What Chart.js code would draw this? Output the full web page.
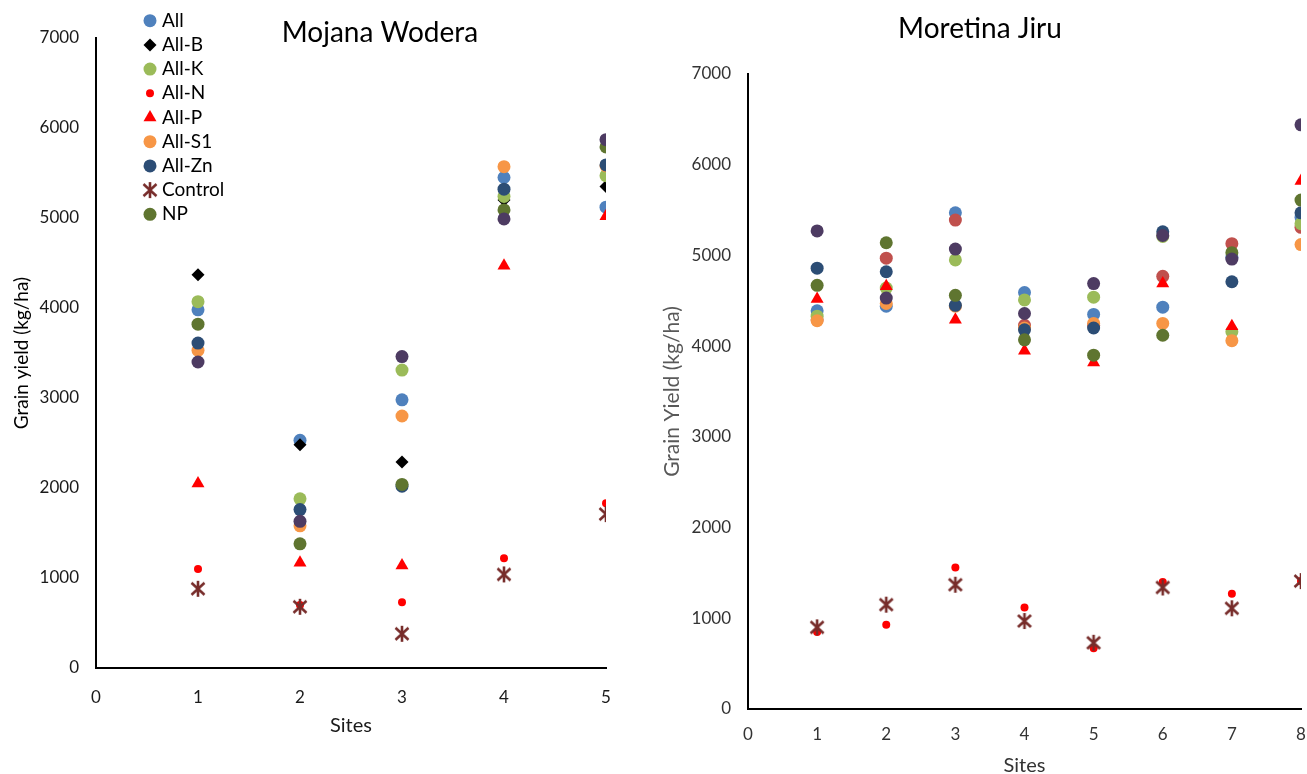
<!DOCTYPE html>
<html>
<head>
<meta charset="utf-8">
<title>Grain yield by site</title>
<script src="https://cdn.jsdelivr.net/npm/chart.js@4.4.0/dist/chart.umd.min.js"></script>
<style>
  html, body { margin: 0; padding: 0; background: #ffffff; overflow: hidden; width: 1307px; height: 774px; }
  #wrapL { position: absolute; left: 0; top: 0; width: 660px; height: 774px; }
  #wrapR { position: absolute; left: 640px; top: 0; width: 720px; height: 774px; }
</style>
</head>
<body>
<div id="wrapL"><canvas id="mojana"></canvas></div>
<div id="wrapR"><canvas id="moretina"></canvas></div>
<script>
// ---- Mojana Wodera (sites 1-5), grain yield kg/ha ----
const mwSites = [1, 2, 3, 4, 5];
const mwAll     = [3980, 2530, 2980, 5450, 5120];
const mwAllB    = [4370, 2480, 2290, 5200, 5350];
const mwAllK    = [4070, 1880, 3310, 5240, 5470];
const mwAllN    = [1100, 700, 730, 1220, 1830];
const mwAllP    = [2050, 1170, 1140, 4470, 5020];
const mwAllS1   = [3530, 1580, 2800, 5570, 5580];
const mwAllZn   = [3610, 1760, 2020, 5320, 5590];
const mwControl = [880, 680, 380, 1040, 1710];
const mwNP      = [3820, 1380, 2040, 5090, 5790];
const mwOther   = [3400, 1630, 3460, 4990, 5870];

// ---- Moretina Jiru (sites 1-8), grain yield kg/ha ----
const mjSites = [1, 2, 3, 4, 5, 6, 7, 8];
const mjAll     = [4390, 4440, 5470, 4590, 4350, 4430, 4980, 5420];
const mjAllB    = [4290, 4970, 5390, 4230, 4230, 4770, 5130, 5310];
const mjAllK    = [4330, 4640, 4950, 4510, 4540, 5210, 4160, 5350];
const mjAllN    = [850, 930, 1560, 1120, 670, 1400, 1270, 1410];
const mjAllP    = [4520, 4660, 4290, 3950, 3820, 4690, 4220, 5820];
const mjAllS1   = [4280, 4470, 4440, 4200, 4250, 4250, 4060, 5120];
const mjAllZn   = [4860, 4820, 4450, 4180, 4200, 5260, 4710, 5470];
const mjControl = [900, 1150, 1370, 970, 730, 1340, 1110, 1410];
const mjNP      = [4670, 5140, 4560, 4070, 3900, 4120, 5030, 5610];
const mjOther   = [5270, 4530, 5070, 4360, 4690, 5220, 4960, 6440];

const yTicks = [0, 1000, 2000, 3000, 4000, 5000, 6000, 7000];
const otherLabel = 'Series 10';

const FONT = "Lato, 'Open Sans', 'Liberation Sans', sans-serif";

// asterisk marker (X with a vertical bar)
function makeAsterisk(color) {
  const c = document.createElement('canvas');
  c.width = 18; c.height = 18;
  const g = c.getContext('2d');
  g.strokeStyle = color;
  g.lineWidth = 2.6;
  g.beginPath();
  g.moveTo(9, 1); g.lineTo(9, 17);
  g.moveTo(2.5, 3); g.lineTo(15.5, 15);
  g.moveTo(15.5, 3); g.lineTo(2.5, 15);
  g.stroke();
  return c;
}
const asterisk = makeAsterisk('#772C2A');

function pts(sites, vals) {
  return sites.map((s, i) => ({ x: s, y: vals[i] }));
}

function series(label, sites, vals, style) {
  return Object.assign({
    label: label,
    data: pts(sites, vals),
    borderWidth: 0,
    pointBorderWidth: 0,
    pointHoverRadius: 0
  }, style);
}

const circle = (color) => ({ pointStyle: 'circle', pointRadius: 6.5, backgroundColor: color, borderColor: color, pointBackgroundColor: color });

function buildSets(sites, v, bStyle) {
  const sets = [
    series('All', sites, v.all, circle('#4F81BD')),
    series('All-B', sites, v.b, bStyle),
    series('All-K', sites, v.k, circle('#9BBB59')),
    series('All-N', sites, v.n, { pointStyle: 'circle', pointRadius: 4, backgroundColor: '#FF0000', borderColor: '#FF0000', pointBackgroundColor: '#FF0000' }),
    series('All-P', sites, v.p, { pointStyle: 'triangle', pointRadius: 7.5, backgroundColor: '#FF0000', borderColor: '#FF0000', pointBackgroundColor: '#FF0000' }),
    series('All-S1', sites, v.s1, circle('#F79646')),
    series('All-Zn', sites, v.zn, circle('#2C4D75')),
    series('Control', sites, v.ctrl, { pointStyle: asterisk, pointRadius: 9, backgroundColor: '#772C2A', borderColor: '#772C2A' }),
    series('NP', sites, v.np, circle('#5F7530')),
    series(otherLabel, sites, v.other, circle('#4D3B62'))
  ];
  // later series sit on top of earlier ones
  sets.forEach((d, i) => { d.order = sets.length - 1 - i; });
  return sets;
}

// chart heading drawn at a fixed spot over the plot
const headingPlugin = {
  id: 'heading',
  afterDraw(chart, args, opts) {
    if (!opts.text) return;
    const ctx = chart.ctx;
    ctx.save();
    ctx.font = Chart.helpers.toFont(opts.font).string;
    ctx.fillStyle = opts.color || '#000';
    ctx.textAlign = 'center';
    ctx.textBaseline = 'middle';
    ctx.fillText(opts.text, opts.x, opts.y);
    ctx.restore();
  }
};

// legend list drawn at the top-left of the plot
const markerLegend = {
  id: 'markerLegend',
  afterDraw(chart, args, opts) {
    if (!opts.display) return;
    const ctx = chart.ctx;
    const font = Chart.helpers.toFont(opts.font).string;
    const items = chart.data.datasets.filter(d => !(opts.hide || []).includes(d.label));
    items.forEach((ds, i) => {
      const y = opts.y + i * opts.rowGap;
      ctx.save();
      ctx.fillStyle = ds.backgroundColor;
      ctx.strokeStyle = ds.borderColor;
      Chart.helpers.drawPoint(ctx, { pointStyle: ds.pointStyle, radius: ds.pointRadius, borderWidth: 0, rotation: 0 }, opts.markerX, y);
      ctx.fillStyle = opts.color;
      ctx.font = font;
      ctx.textAlign = 'left';
      ctx.textBaseline = 'middle';
      ctx.fillText(ds.label, opts.textX, y);
      ctx.restore();
    });
  }
};

function makeChart(id, cfg) {
  return new Chart(document.getElementById(id), {
    type: 'scatter',
    data: { datasets: cfg.datasets },
    plugins: [headingPlugin, markerLegend],
    options: {
      responsive: true,
      maintainAspectRatio: false,
      animation: false,
      events: [],
      layout: { padding: { left: 0, top: cfg.top, right: cfg.right, bottom: 0 } },
      plugins: {
        legend: { display: false },
        tooltip: { enabled: false },
        heading: cfg.heading,
        markerLegend: cfg.legend
      },
      scales: {
        x: {
          type: 'linear',
          min: 0,
          max: cfg.xMax,
          afterBuildTicks: (s) => { s.ticks = [0].concat(cfg.sites).map(v => ({ value: v })); },
          ticks: { padding: cfg.xTickPad, color: cfg.tickColor, font: { family: FONT, size: 17 }, callback: (v) => String(v) },
          grid: { display: false, drawTicks: false },
          border: { display: true, color: '#000', width: 2 },
          title: { display: true, text: 'Sites', color: cfg.xTitleColor, font: { family: FONT, size: 20, lineHeight: 1 }, padding: { top: 0, bottom: cfg.xTitlePad } },
          afterFit: (s) => { s.height = cfg.xHeight; }
        },
        y: {
          type: 'linear',
          min: 0,
          max: 7000,
          afterBuildTicks: (s) => { s.ticks = yTicks.map(v => ({ value: v })); },
          ticks: { padding: 17, color: cfg.tickColor, font: { family: FONT, size: 17 }, callback: (v) => String(v) },
          grid: { display: false, drawTicks: false },
          border: { display: true, color: '#000', width: 2 },
          title: { display: true, text: cfg.yTitle, color: cfg.yTitleColor, font: { family: FONT, size: cfg.yTitleSize, lineHeight: 1 }, padding: { top: cfg.yTitlePad, bottom: 0 } },
          afterFit: (s) => { s.width = cfg.yWidth; }
        }
      }
    }
  });
}

makeChart('mojana', {
  datasets: buildSets(mwSites, { all: mwAll, b: mwAllB, k: mwAllK, n: mwAllN, p: mwAllP, s1: mwAllS1, zn: mwAllZn, ctrl: mwControl, np: mwNP, other: mwOther },
    { pointStyle: 'rectRot', pointRadius: 6.5, backgroundColor: '#000000', borderColor: '#000000', pointBackgroundColor: '#000000' }),
  sites: mwSites,
  xMax: 5,
  top: 38,
  right: 54,
  xHeight: 106,
  yWidth: 96,
  xTickPad: 19,
  xTitlePad: 38,
  yTitlePad: 12,
  tickColor: '#1a1a1a',
  xTitleColor: '#1a1a1a',
  yTitle: 'Grain yield (kg/ha)',
  yTitleSize: 19,
  yTitleColor: '#000000',
  heading: { text: 'Mojana Wodera', x: 380, y: 33, color: '#000', font: { family: FONT, size: 28 } },
  legend: { display: true, hide: [otherLabel], markerX: 150, textX: 162, y: 20.7, rowGap: 24.2, color: '#000000', font: { family: FONT, size: 19 } }
});

makeChart('moretina', {
  datasets: buildSets(mjSites, { all: mjAll, b: mjAllB, k: mjAllK, n: mjAllN, p: mjAllP, s1: mjAllS1, zn: mjAllZn, ctrl: mjControl, np: mjNP, other: mjOther },
    circle('#C0504D')),
  sites: mjSites,
  xMax: 8,
  top: 74,
  right: 59,
  xHeight: 65,
  yWidth: 108,
  xTickPad: 15,
  xTitlePad: -2,
  yTitlePad: 22,
  tickColor: '#333333',
  xTitleColor: '#333333',
  yTitle: 'Grain Yield (kg/ha)',
  yTitleSize: 21,
  yTitleColor: '#595959',
  heading: { text: 'Moretina Jiru', x: 340, y: 29, color: '#000', font: { family: FONT, size: 28 } },
  legend: { display: false }
});
</script>
</body>
</html>
